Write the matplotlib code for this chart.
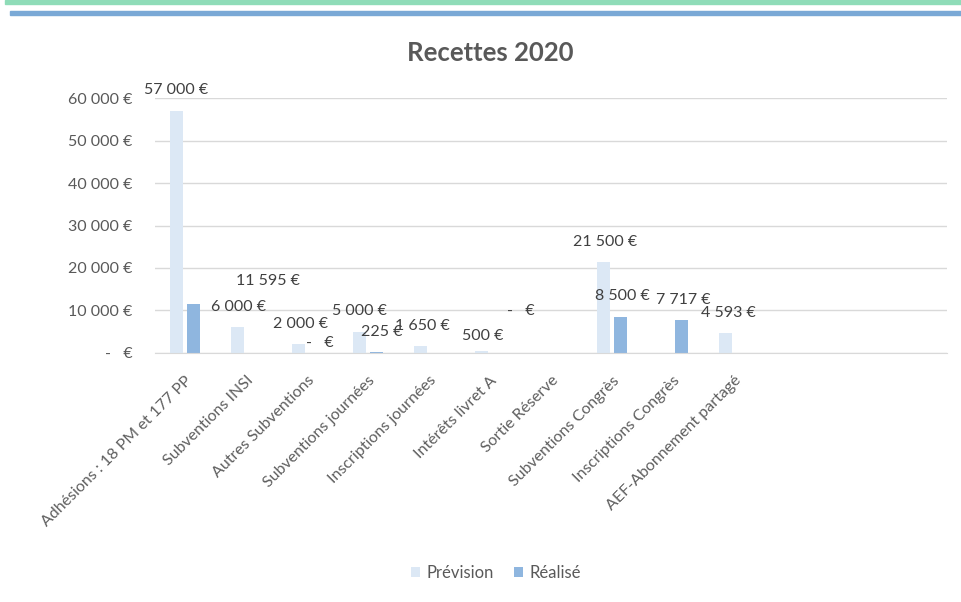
import numpy as np
import matplotlib.pyplot as plt
from matplotlib.patches import Rectangle

plt.rcParams['font.family'] = ['Lato', 'DejaVu Sans']

# categories (the last three slots are empty in the source sheet)
categories = ["Adhésions : 18 PM et 177 PP", "Subventions INSI", "Autres Subventions",
              "Subventions journées", "Inscriptions journées", "Intérêts livret A",
              "Sortie Réserve", "Subventions Congrès", "Inscriptions Congrès",
              "AEF-Abonnement partagé", "", "", ""]
prevision = [57000, 6000, 2000, 5000, 1650, 500, 0, 21500, 0, 4593, 0, 0, 0]
realise = [11595, 0, 0, 225, 0, 0, 0, 8500, 7717, 0, 0, 0, 0]
y_ticks = [0, 10000, 20000, 30000, 40000, 50000, 60000]

# data labels: (category index, label offset in pixels dx, dy)
labels_prev = [(0, 0, 21), (1, 1, 20), (2, 2, 20), (3, 0, 21), (4, 2, 20),
               (5, 1, 15), (7, 2, 20), (9, 3, 20)]
labels_real = [(0, 74, 23), (2, 4, 10), (3, 5, 20), (5, 22, 42), (7, 2, 21), (8, 2, 20)]


def eur(v):
    if v == 0:
        return "-   €"
    return f"{v:,.0f} €".replace(",", " ")


fig = plt.figure(figsize=(9.61, 6.02), dpi=100)
# screenshot decoration at the top
fig.patches.append(Rectangle((0.005, 1 - 4 / 602), 0.995, 4 / 602, transform=fig.transFigure,
                             color='#8fdcb8', zorder=0))
fig.patches.append(Rectangle((0.01, 1 - 15 / 602), 0.99, 4 / 602, transform=fig.transFigure,
                             color='#7aa9d6', zorder=0))

ax = fig.add_axes([0.1608, 0.4141, 0.825, 0.4226])
x = np.arange(len(categories))
w = 0.22
off = 0.14
c_prev = '#dce8f5'
c_real = '#8fb6df'
ax.bar(x - off, prevision, w, color=c_prev, label='Prévision', zorder=2)
ax.bar(x + off, realise, w, color=c_real, label='Réalisé', zorder=2)

ax.set_xlim(-0.5, len(categories) - 0.5)
ax.set_ylim(0, 60000)
ax.set_yticks(y_ticks)
ax.set_yticklabels([eur(v) for v in y_ticks], fontsize=11.5, color='#595959')
ax.yaxis.grid(True, color='#d9d9d9', linewidth=1, zorder=0)
ax.set_axisbelow(True)
for s in ['top', 'right', 'left']:
    ax.spines[s].set_visible(False)
ax.spines['bottom'].set_color('#d9d9d9')
ax.tick_params(axis='y', length=0, pad=16)
ax.tick_params(axis='x', length=0, pad=15)
ax.set_xticks(x)
ax.set_xticklabels(categories, rotation=45, ha='right', va='top', rotation_mode='anchor',
                   fontsize=11.5, color='#5f5f5f')

for i, dx, dy in labels_prev:
    ax.annotate(eur(prevision[i]), (x[i] - off, prevision[i]), xytext=(dx, dy),
                textcoords='offset pixels', ha='center', va='center', fontsize=11.5,
                color='#404040')
for i, dx, dy in labels_real:
    ax.annotate(eur(realise[i]), (x[i] + off, realise[i]), xytext=(dx, dy),
                textcoords='offset pixels', ha='center', va='center', fontsize=11.5,
                color='#404040')

fig.text(0.510, 0.912, "Recettes 2020", ha='center', va='center', fontsize=18.5,
         fontweight='bold', color='#595959')

fig.legend(loc='center', bbox_to_anchor=(0.516, 0.048), ncol=2, frameon=False,
           fontsize=12, handlelength=0.55, handleheight=0.55, columnspacing=1.2,
           handletextpad=0.4, labelcolor='#595959')

fig.savefig('out.png', dpi=100)
